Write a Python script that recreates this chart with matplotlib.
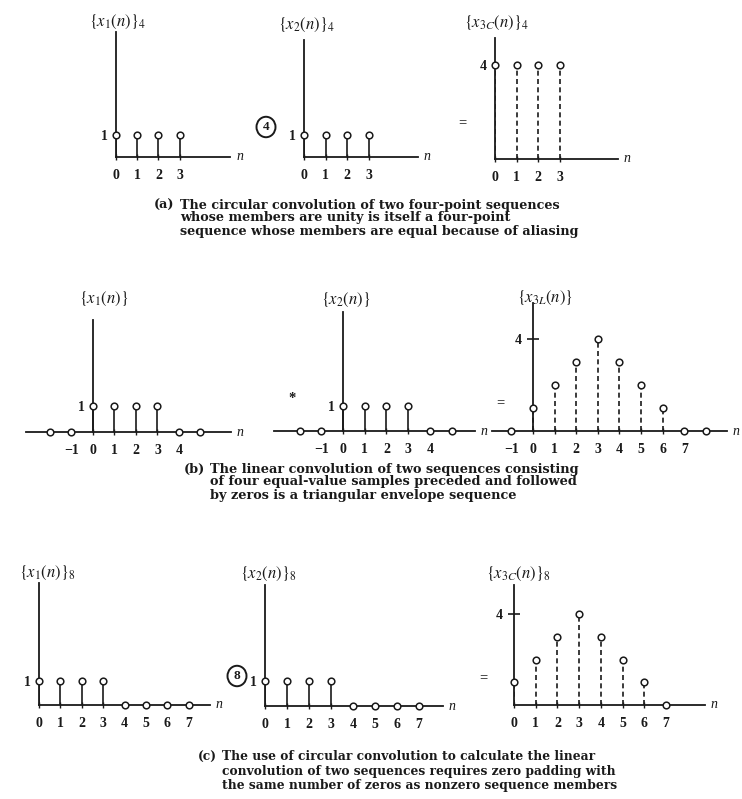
import matplotlib
matplotlib.use('Agg')
import matplotlib.pyplot as plt
from matplotlib.patches import Circle

plt.rcParams['mathtext.fontset'] = 'stix'

W, H, DPI = 742, 799, 100

# ---------------- data ----------------
n_a = [0, 1, 2, 3]
x1_a = [1, 1, 1, 1]
x2_a = [1, 1, 1, 1]
x3_a = [4, 4, 4, 4]

n_b12 = [-2, -1, 0, 1, 2, 3, 4, 5]
x1_b = [0, 0, 1, 1, 1, 1, 0, 0]
x2_b = [0, 0, 1, 1, 1, 1, 0, 0]
n_b3 = [-1, 0, 1, 2, 3, 4, 5, 6, 7, 8]
x3_b = [0, 1, 2, 3, 4, 3, 2, 1, 0, 0]

n_c = [0, 1, 2, 3, 4, 5, 6, 7]
x1_c = [1, 1, 1, 1, 0, 0, 0, 0]
x2_c = [1, 1, 1, 1, 0, 0, 0, 0]
x3_c = [1, 2, 3, 4, 3, 2, 1, 0]

ticks_a = [0, 1, 2, 3]
ticks_b12 = [-1, 0, 1, 2, 3, 4]
ticks_b3 = [-1, 0, 1, 2, 3, 4, 5, 6, 7]
ticks_c = [0, 1, 2, 3, 4, 5, 6, 7]

titles_a = [r'$\{x_1(n)\}_4$', r'$\{x_2(n)\}_4$', r'$\{x_{3C}(n)\}_4$']
titles_b = [r'$\{x_1(n)\}$', r'$\{x_2(n)\}$', r'$\{x_{3L}(n)\}$']
titles_c = [r'$\{x_1(n)\}_8$', r'$\{x_2(n)\}_8$', r'$\{x_{3C}(n)\}_8$']

cap_a = ["The circular convolution of two four-point sequences",
         "whose members are unity is itself a four-point",
         "sequence whose members are equal because of aliasing"]
cap_b = ["The linear convolution of two sequences consisting",
         "of four equal-value samples preceded and followed",
         "by zeros is a triangular envelope sequence"]
cap_c = ["The use of circular convolution to calculate the linear",
         "convolution of two sequences requires zero padding with",
         "the same number of zeros as nonzero sequence members"]

# ---------------- figure ----------------
fig = plt.figure(figsize=(W / DPI, H / DPI), dpi=DPI)
fig.patch.set_facecolor('white')

INK = '#1a1a1a'
NUMFONT = dict(family='Liberation Serif', weight='bold', size=10, color=INK)


def capfont(size):
    return dict(family='DejaVu Serif', weight='bold', size=size, color=INK)


def fx(x):
    return x / W


def fy(y):
    return 1 - y / H


def panel(x0, dx, yb, dy, xmin, xmax, ymax, n, vals, ticks, yval, ytxt,
          dashed=False, ytick=False):
    left = x0 + xmin * dx
    width = (xmax - xmin) * dx
    height = ymax * dy
    ax = fig.add_axes([fx(left), fy(yb), width / W, height / H])
    ax.set_xlim(xmin, xmax)
    ax.set_ylim(0, ymax)
    ax.patch.set_visible(False)
    for s in ('top', 'right'):
        ax.spines[s].set_visible(False)
    ax.spines['left'].set_position(('data', 0))
    for s in ('left', 'bottom'):
        ax.spines[s].set_linewidth(1.3)
        ax.spines[s].set_color(INK)
    nz_n = [k for k, v in zip(n, vals) if v != 0]
    nz_v = [v for v in vals if v != 0]
    ax.vlines(nz_n, 0, nz_v, colors=INK, linewidth=1.2,
              linestyles=(0, (3, 2)) if dashed else 'solid', zorder=2)
    ax.plot(n, vals, 'o', ms=4.8, mfc='white', mec=INK, mew=1.1,
            clip_on=False, zorder=4)
    ax.set_xticks(ticks)
    ax.set_xticklabels([str(t).replace('-', '\u2212') for t in ticks], **NUMFONT)
    ax.tick_params(axis='x', direction='inout', length=5, width=1.0,
                   color=INK, pad=6)
    ax.set_yticks([yval])
    ax.set_yticklabels([ytxt], **NUMFONT)
    ax.tick_params(axis='y', direction='inout', length=8 if ytick else 0,
                   width=1.2, color=INK, pad=4 if ytick else 6)
    ax.annotate('n', xy=(xmax, 0), xytext=(4, 0), textcoords='offset points',
                va='center', ha='left', fontsize=10, style='italic',
                family='Liberation Serif', color=INK, annotation_clip=False)
    return ax


# (a)
panel(116, 21.2, 157, 22, 0, 5.4, 5.7, n_a, x1_a, ticks_a, 1, '1')
panel(304, 21.5, 157, 22, 0, 5.3, 5.3, n_a, x2_a, ticks_a, 1, '1')
panel(495, 21.5, 159, 23.5, 0, 5.7, 5.15, n_a, x3_a, ticks_a, 4, '4', dashed=True)
# (b)
panel(93, 21.5, 432, 26, -3.1, 6.4, 4.3, n_b12, x1_b, ticks_b12, 1, '1')
panel(343, 21.7, 431, 25, -3.2, 6.1, 4.75, n_b12, x2_b, ticks_b12, 1, '1')
panel(533, 21.6, 431, 23, -1.9, 9.0, 5.57, n_b3, x3_b, ticks_b3, 4, '4',
      dashed=True, ytick=True)
# (c)
panel(39, 21.4, 705, 24, 0, 8.0, 5.1, n_c, x1_c, ticks_c, 1, '1')
panel(265, 22.0, 706, 25, 0, 8.1, 4.85, n_c, x2_c, ticks_c, 1, '1')
panel(514, 21.7, 705, 22.75, 0, 8.8, 5.27, n_c, x3_c, ticks_c, 4, '4',
      dashed=True, ytick=True)

# titles
TFONT = dict(fontsize=12, color=INK, ha='center', va='center')
for t, (x, y) in zip(titles_a, [(118, 22), (307, 25), (496, 23)]):
    fig.text(fx(x), fy(y), t, **TFONT)
for t, (x, y) in zip(titles_b, [(104, 299), (346, 300), (545, 298)]):
    fig.text(fx(x), fy(y), t, **TFONT)
for t, (x, y) in zip(titles_c, [(47, 573), (268, 574), (518, 574)]):
    fig.text(fx(x), fy(y), t, **TFONT)

# operators
for (cx, cy, lab) in [(266, 127, '4'), (237, 676, '8')]:
    fig.patches.append(Circle((fx(cx), fy(cy)), 9.5 / W, transform=fig.transFigure,
                              fill=False, ec=INK, lw=1.4))
    fig.text(fx(cx), fy(cy), lab, ha='center', va='center', fontsize=9.5,
             family='Liberation Serif', weight='bold', color=INK)
for (x, y, s) in [(462, 123, '='), (500, 403, '='), (483, 678, '='), (292, 398, '*')]:
    fig.text(fx(x), fy(y), s, ha='center', va='center', fontsize=10.5,
             family='Liberation Serif', weight='bold', color=INK)


# captions
def caption(lab, lines, xl, xt, ys, size):
    f = capfont(size)
    fig.text(fx(xl), fy(ys[0]), lab, ha='left', va='center', **f)
    for line, y in zip(lines, ys):
        fig.text(fx(xt), fy(y), line, ha='left', va='center', **f)


caption('(a)', cap_a, 154, 180, [205, 218, 231], 9.2)
caption('(b)', cap_b, 184, 210, [469, 482, 495], 9.3)
caption('(c)', cap_c, 198, 222, [757, 771, 785], 8.8)

fig.savefig('out.png', dpi=DPI, facecolor='white')
